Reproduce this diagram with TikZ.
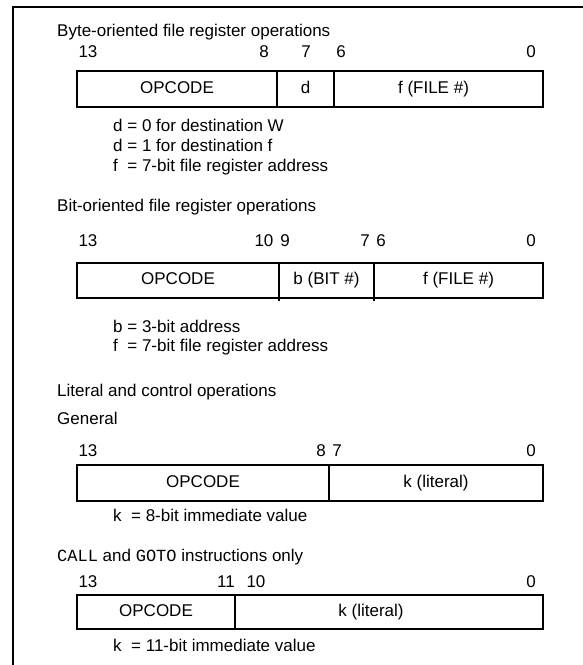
\documentclass[tikz,border=0pt]{standalone}
\usepackage{fontspec}
\setmainfont{Liberation Sans}
\newfontfamily\monofont{Liberation Mono}
\begin{document}
\begin{tikzpicture}[x=1pt,y=-1pt,font=\fontsize{17}{20}\selectfont]
\tikzset{
  lbl/.style={inner sep=0pt, anchor=west, text height=12pt, text depth=3.5pt},
  bitno/.style={inner sep=0pt, text height=12pt, text depth=3.5pt},
  fld/.style={inner sep=0pt, text height=12pt, text depth=3.5pt, minimum width=#1},
  boxline/.style={line width=2pt},
  divline/.style={line width=1.6pt},
  frameline/.style={line width=2pt}
}
\useasboundingbox (0,0) rectangle (583,665);
% frame
\coordinate (ftl) at (13,7);
\coordinate (ftr) at (583,7);
\coordinate (fbl) at (13,665);
\draw[frameline] (ftr) -- (ftl) -- (fbl);

% ---- Byte-oriented
\node[lbl] (t1) at (57,32) {Byte-oriented file register operations};
\node[bitno] (b1a) at (88,53) {13};
\node[bitno] (b1b) at (264,53) {8};
\node[bitno] (b1c) at (306,53) {7};
\node[bitno] (b1d) at (341,53) {6};
\node[bitno] (b1e) at (531,53) {0};
\node[fld=200pt, minimum height=36pt] (o1) at (177,89) {OPCODE};
\node[fld=57pt, minimum height=36pt] (d1) at (305.5,89) {d};
\node[fld=209pt, minimum height=36pt] (f1) at (438.5,89) {\hspace{-10pt}f (FILE \#)};
\draw[boxline] (o1.north west) rectangle (f1.south east);
\draw[divline] (o1.north east) -- (o1.south east);
\draw[divline] (d1.north east) -- (d1.south east);
\node[lbl] (n1a) at (113,127) {d = 0 for destination W};
\node[lbl] (n1b) at (113,147) {d = 1 for destination f};
\node[lbl] (n1c) at (113,167) {f\ \ = 7-bit file register address};

% ---- Bit-oriented
\node[lbl] (t2) at (57,207) {Bit-oriented file register operations};
\node[bitno] (b2a) at (88,242) {13};
\node[bitno] (b2b) at (264,242) {10};
\node[bitno] (b2c) at (285,242) {9};
\node[bitno] (b2d) at (365,242) {7};
\node[bitno] (b2e) at (381,242) {6};
\node[bitno] (b2f) at (531,242) {0};
\node[fld=202pt, minimum height=35pt] (o2) at (178,280.5) {OPCODE};
\node[fld=95pt, minimum height=35pt] (bb2) at (326.5,280.5) {b (BIT \#)};
\node[fld=169pt, minimum height=35pt] (f2) at (458.5,280.5) {f (FILE \#)};
\draw[boxline] (o2.north west) rectangle (f2.south east);
\draw[divline] (o2.north east) -- ([yshift=-3pt]o2.south east);
\draw[divline] (bb2.north east) -- ([yshift=-3pt]bb2.south east);
\node[lbl] (n2a) at (113,328) {b = 3-bit address};
\node[lbl] (n2b) at (113,347) {f\ \ = 7-bit file register address};

% ---- Literal and control
\node[lbl] (t3) at (57,392) {Literal and control operations};
\node[lbl] (t3b) at (57,420) {General};
\node[bitno] (b3a) at (88,452) {13};
\node[bitno] (b3b) at (321,452) {8};
\node[bitno] (b3c) at (337,452) {7};
\node[bitno] (b3d) at (531,452) {0};
\node[fld=252pt, minimum height=36pt] (o3) at (203,483) {OPCODE};
\node[fld=214pt, minimum height=36pt] (k3) at (436,483) {k (literal)};
\draw[boxline] (o3.north west) rectangle (k3.south east);
\draw[divline] (o3.north east) -- (o3.south east);
\node[lbl] (n3a) at (113,517) {k\ \ = 8-bit immediate value};

% ---- CALL and GOTO
\node[lbl] (t4) at (57,557) {{\monofont CALL} and {\monofont GOTO} instructions only};
\node[bitno] (b4a) at (88,583) {13};
\node[bitno] (b4b) at (226,583) {11};
\node[bitno] (b4c) at (256,583) {10};
\node[bitno] (b4d) at (531,583) {0};
\node[fld=158pt, minimum height=34pt] (o4) at (156,612) {OPCODE};
\node[fld=308pt, minimum height=34pt] (k4) at (389,612) {\hspace{-36pt}k (literal)};
\draw[boxline] (o4.north west) rectangle (k4.south east);
\draw[divline] (o4.north east) -- (o4.south east);
\node[lbl] (n4a) at (113,647) {k\ \ = 11-bit immediate value};
\end{tikzpicture}
\end{document}
